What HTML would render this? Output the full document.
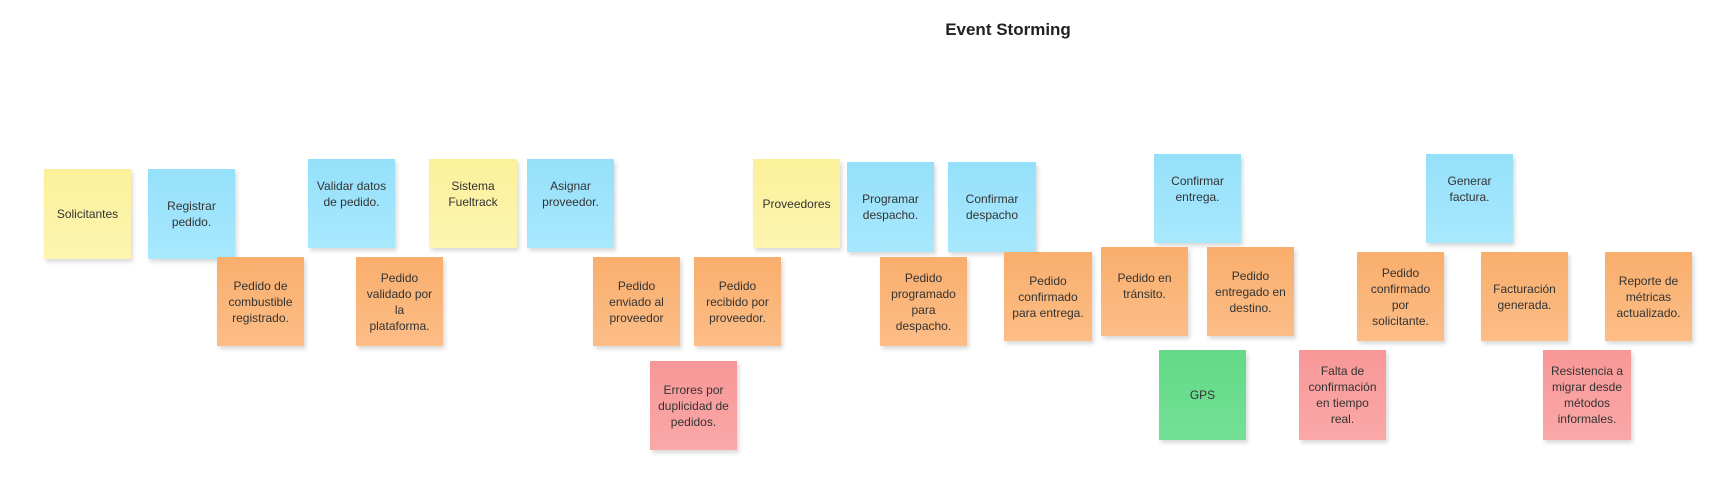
<!DOCTYPE html>
<html><head><meta charset="utf-8"><style>
body{margin:0;width:1727px;height:477px;background:#fff;position:relative;overflow:hidden;font-family:"Liberation Sans",sans-serif;}
.t{position:absolute;left:900px;top:20px;width:216px;text-align:center;font-weight:bold;font-size:17px;color:#222;white-space:nowrap;}
.n{position:absolute;display:flex;align-items:center;justify-content:center;text-align:center;font-size:12px;line-height:16px;color:#333;box-shadow:2px 3px 4px rgba(0,0,0,0.15);padding:0 2px;box-sizing:border-box;white-space:nowrap;}
.y{background:linear-gradient(#fbf09a,#fdf5b0);}
.b{background:linear-gradient(#95e0fa,#a8e8fd);}
.o{background:linear-gradient(#f9ae6d,#fcbd86);}
.r{background:linear-gradient(#f79797,#fba8a8);}
.g{background:linear-gradient(#63d987,#74e096);}
</style></head><body>
<div class="t">Event Storming</div>
<div class="n y" style="left:44px;top:169px;width:87px;height:90px">Solicitantes</div>
<div class="n b" style="left:148px;top:169px;width:87px;height:90px">Registrar<br>pedido.</div>
<div class="n o" style="left:217px;top:257px;width:87px;height:89px">Pedido de<br>combustible<br>registrado.</div>
<div class="n b" style="left:308px;top:159px;width:87px;height:89px;padding-bottom:20px">Validar datos<br>de pedido.</div>
<div class="n o" style="left:356px;top:257px;width:87px;height:89px">Pedido<br>validado por<br>la<br>plataforma.</div>
<div class="n y" style="left:429px;top:159px;width:88px;height:89px;padding-bottom:20px">Sistema<br>Fueltrack</div>
<div class="n b" style="left:527px;top:159px;width:87px;height:89px;padding-bottom:20px">Asignar<br>proveedor.</div>
<div class="n o" style="left:593px;top:257px;width:87px;height:89px">Pedido<br>enviado al<br>proveedor</div>
<div class="n o" style="left:694px;top:257px;width:87px;height:89px">Pedido<br>recibido por<br>proveedor.</div>
<div class="n r" style="left:650px;top:361px;width:87px;height:89px">Errores por<br>duplicidad de<br>pedidos.</div>
<div class="n y" style="left:753px;top:159px;width:87px;height:89px">Proveedores</div>
<div class="n b" style="left:847px;top:162px;width:87px;height:90px">Programar<br>despacho.</div>
<div class="n b" style="left:948px;top:162px;width:88px;height:90px">Confirmar<br>despacho</div>
<div class="n o" style="left:880px;top:257px;width:87px;height:89px">Pedido<br>programado<br>para<br>despacho.</div>
<div class="n o" style="left:1004px;top:252px;width:88px;height:89px">Pedido<br>confirmado<br>para entrega.</div>
<div class="n b" style="left:1154px;top:154px;width:87px;height:89px;padding-bottom:20px">Confirmar<br>entrega.</div>
<div class="n o" style="left:1101px;top:247px;width:87px;height:89px;padding-bottom:12px">Pedido en<br>tránsito.</div>
<div class="n o" style="left:1207px;top:247px;width:87px;height:89px">Pedido<br>entregado en<br>destino.</div>
<div class="n g" style="left:1159px;top:350px;width:87px;height:90px">GPS</div>
<div class="n r" style="left:1299px;top:350px;width:87px;height:90px">Falta de<br>confirmación<br>en tiempo<br>real.</div>
<div class="n b" style="left:1426px;top:154px;width:87px;height:89px;padding-bottom:20px">Generar<br>factura.</div>
<div class="n o" style="left:1357px;top:252px;width:87px;height:89px">Pedido<br>confirmado<br>por<br>solicitante.</div>
<div class="n o" style="left:1481px;top:252px;width:87px;height:89px">Facturación<br>generada.</div>
<div class="n o" style="left:1605px;top:252px;width:87px;height:89px">Reporte de<br>métricas<br>actualizado.</div>
<div class="n r" style="left:1543px;top:350px;width:88px;height:90px">Resistencia a<br>migrar desde<br>métodos<br>informales.</div>
</body></html>
